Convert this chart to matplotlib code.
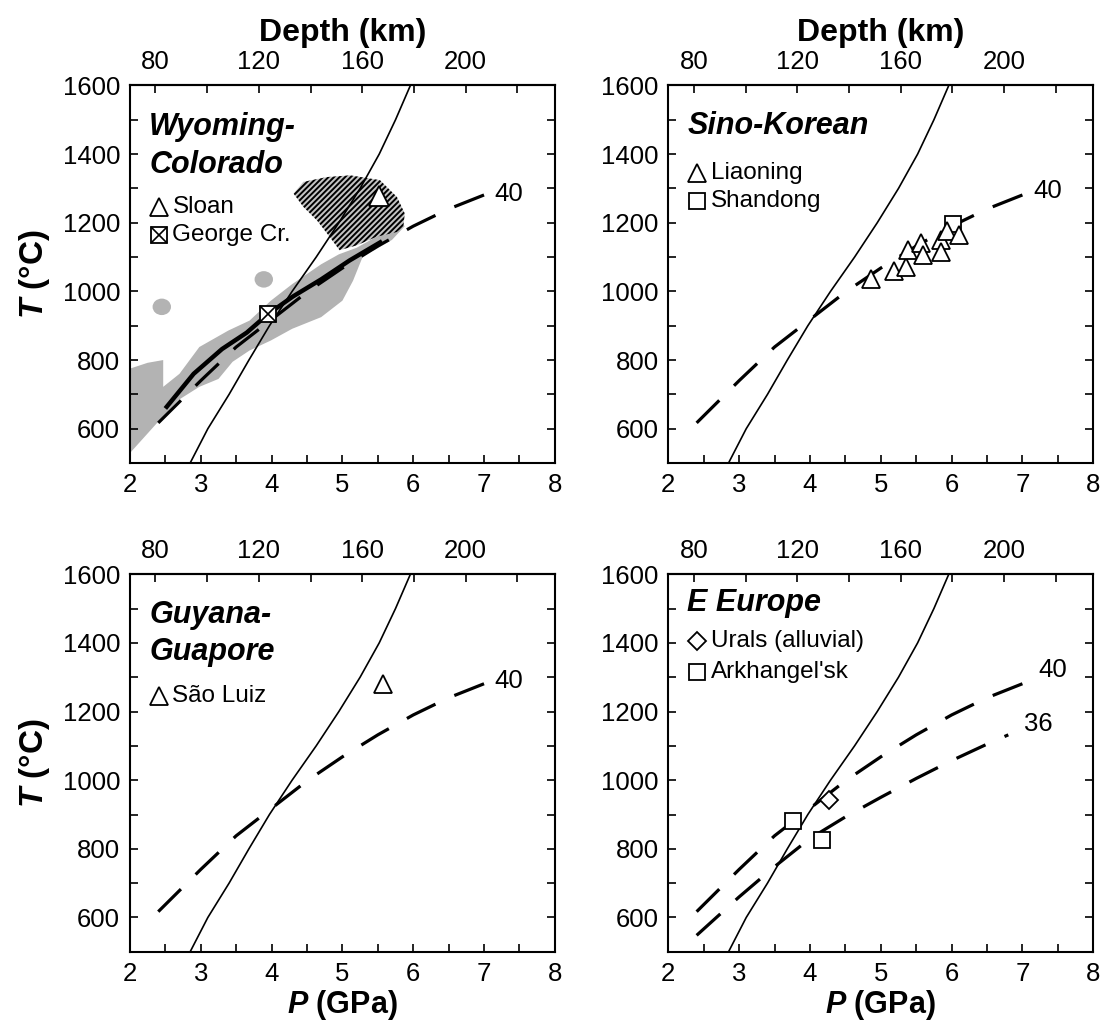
import matplotlib
matplotlib.use("Agg")
import matplotlib.pyplot as plt
from matplotlib.patches import Polygon, Ellipse
import numpy as np

plt.rcParams['font.family'] = ['Liberation Sans', 'DejaVu Sans']
plt.rcParams['mathtext.fontset'] = 'custom'
plt.rcParams['mathtext.bfit'] = 'Liberation Sans:bold:italic'
plt.rcParams['mathtext.rm'] = 'Liberation Sans:bold'
plt.rcParams['hatch.linewidth'] = 1.4
TICK_FS = 18.5

# graphite-diamond boundary (P in GPa, T in C)
gd_T = [500, 600, 700, 800, 900, 1000, 1100, 1200, 1300, 1400, 1500, 1600]
gd_P = [2.85, 3.10, 3.40, 3.68, 3.97, 4.29, 4.63, 4.95, 5.25, 5.52, 5.75, 5.96]

# conductive geotherms (mW/m2)
g40_P = [2.4, 3.0, 3.5, 4.0, 4.5, 5.0, 5.5, 6.0, 6.5, 7.05]
g40_T = [617, 740, 838, 918, 998, 1068, 1132, 1190, 1240, 1285]
g36_P = [2.4, 3.0, 3.5, 4.0, 4.5, 5.0, 5.5, 6.0, 6.5, 6.8]
g36_T = [548, 660, 748, 830, 893, 950, 1005, 1057, 1105, 1132]

# Wyoming-Colorado
wy_field_P = [2.00, 2.25, 2.47, 2.47, 2.70, 2.98, 3.39, 3.69, 3.99, 4.29, 4.70, 4.95, 5.20, 5.40, 5.60, 5.80,
              5.88, 5.70, 5.45, 5.30, 5.15, 5.00, 4.70, 4.29, 3.99, 3.69, 3.45, 3.25, 2.98, 2.68, 2.38, 2.00]
wy_field_T = [775, 792, 800, 722, 760, 838, 886, 915, 973, 1021, 1079, 1108, 1127, 1150, 1175, 1205,
              1190, 1150, 1120, 1108, 1031, 973, 925, 891, 857, 828, 795, 745, 722, 683, 616, 529]
wy_hatch_P = [4.31, 4.45, 4.78, 5.11, 5.53, 5.77, 5.88, 5.86, 5.77, 5.48, 5.20, 4.96, 4.82, 4.64, 4.45]
wy_hatch_T = [1285, 1319, 1333, 1338, 1324, 1275, 1227, 1188, 1173, 1159, 1134, 1120, 1159, 1207, 1246]
wy_blob_P = [2.45, 3.89]
wy_blob_T = [955, 1035]
wy_path_P = [2.50, 2.90, 3.30, 3.65, 3.95, 4.30, 4.70, 5.10, 5.56]
wy_path_T = [659, 760, 832, 880, 934, 985, 1035, 1090, 1146]
sloan = (5.51, 1279)
george = (3.95, 934)

# Sino-Korean
liaoning_P = [4.86, 5.19, 5.35, 5.39, 5.57, 5.59, 5.85, 5.85, 5.94, 6.10]
liaoning_T = [1037, 1058, 1072, 1120, 1140, 1106, 1149, 1116, 1176, 1165]
shandong = (6.02, 1196)

# Guyana-Guapore
sao_luiz = (5.57, 1280)

# E Europe
urals = (4.27, 943)
arkh_P = [3.76, 4.17]
arkh_T = [880, 825]

fig = plt.figure(figsize=(11.01, 10.29), dpi=100)
axs = [fig.add_axes([0.118, 0.550, 0.386, 0.367]),
       fig.add_axes([0.607, 0.550, 0.386, 0.367]),
       fig.add_axes([0.118, 0.075, 0.386, 0.367]),
       fig.add_axes([0.607, 0.075, 0.386, 0.367])]


def p2z(p):
    return (np.asarray(p) + 0.56) / 0.0365


def z2p(z):
    return np.asarray(z) * 0.0365 - 0.56


def setup(ax, depth_label, p_label, t_label):
    ax.set_xlim(2, 8)
    ax.set_ylim(500, 1600)
    ax.set_xticks(range(2, 9))
    ax.set_xticks(np.arange(2.5, 8, 1), minor=True)
    ax.set_yticks(range(600, 1601, 200))
    ax.set_yticks(range(500, 1600, 100), minor=True)
    ax.tick_params(which='both', direction='in', top=False, right=True,
                   length=6, width=1.2, labelsize=TICK_FS)
    ax.tick_params(axis='x', pad=7)
    ax.tick_params(axis='y', pad=7)
    for s in ax.spines.values():
        s.set_linewidth(1.5)
    sec = ax.secondary_xaxis('top', functions=(p2z, z2p))
    sec.set_xticks([80, 120, 160, 200])
    sec.set_xticks([100, 140, 180, 220], minor=True)
    sec.tick_params(which='both', direction='in', length=6, width=1.2,
                    labelsize=TICK_FS, pad=8)
    sec.spines['top'].set_linewidth(1.5)
    if depth_label:
        sec.set_xlabel('Depth (km)', fontsize=23, fontweight='bold', labelpad=7)
    if p_label:
        ax.set_xlabel(r'$\mathbfit{P}$ (GPa)', fontsize=22, fontweight='bold', labelpad=2)
    if t_label:
        ax.set_ylabel(r'$\mathbfit{T}$ (°C)', fontsize=24, fontweight='bold', labelpad=8)
    ax.plot(gd_P, gd_T, color='black', lw=1.2, zorder=3)
    ax.plot(g40_P, g40_T, color='black', lw=2.3, ls=(0, (10, 6.5)), zorder=3)


def title(ax, lines, y0, dy=0.1):
    for i, t in enumerate(lines):
        ax.text(0.045, y0 - i * dy, t, transform=ax.transAxes, fontsize=22,
                fontweight='bold', style='italic', va='center', ha='left')


def legend_item(ax, y, marker, label, ms=13, cross=False):
    ax.plot(0.068, y, marker=marker, ms=ms, mfc='white', mec='black', mew=1.3,
            transform=ax.transAxes, clip_on=False, zorder=6)
    if cross:
        ax.plot(0.068, y, marker='x', ms=ms, mec='black', mew=1.2,
                transform=ax.transAxes, zorder=7)
    ax.text(0.1, y, label, transform=ax.transAxes, fontsize=17.5,
            va='center', ha='left')


def iso_label(ax, x, y, s):
    ax.text(x, y, s, fontsize=TICK_FS, va='center')


# --- Wyoming-Colorado ---
ax = axs[0]
setup(ax, True, False, True)
ax.add_patch(Polygon(np.column_stack([wy_field_P, wy_field_T]), closed=True,
                     facecolor='#b3b3b3', edgecolor='none', zorder=1))
ax.add_patch(Polygon(np.column_stack([wy_hatch_P, wy_hatch_T]), closed=True,
                     facecolor='#c4c4c4', edgecolor='black', lw=0, hatch='//////', zorder=1.5))
for bp, bt in zip(wy_blob_P, wy_blob_T):
    ax.add_patch(Ellipse((bp, bt), 0.26, 48, angle=0, facecolor='#b3b3b3',
                         edgecolor='none', zorder=1))
ax.plot(wy_path_P, wy_path_T, color='black', lw=3.2, solid_capstyle='butt', zorder=4)
ax.plot(*sloan, marker='^', ms=15, mfc='white', mec='black', mew=1.3, zorder=6)
ax.plot(*george, marker='s', ms=11, mfc='white', mec='black', mew=1.3, zorder=6)
ax.plot(*george, marker='x', ms=11, mec='black', mew=1.2, zorder=7)
iso_label(ax, 7.15, 1285, '40')
title(ax, ['Wyoming-', 'Colorado'], 0.89)
legend_item(ax, 0.678, '^', 'Sloan')
legend_item(ax, 0.605, 's', 'George Cr.', ms=11, cross=True)

# --- Sino-Korean ---
ax = axs[1]
setup(ax, True, False, False)
ax.plot(*shandong, marker='s', ms=12, mfc='white', mec='black', mew=1.3, ls='none', zorder=5)
ax.plot(liaoning_P, liaoning_T, marker='^', ms=13, mfc='white', mec='black', mew=1.3,
        ls='none', zorder=6)
iso_label(ax, 7.15, 1292, '40')
title(ax, ['Sino-Korean'], 0.893)
legend_item(ax, 0.767, '^', 'Liaoning')
legend_item(ax, 0.693, 's', 'Shandong', ms=11)

# --- Guyana-Guapore ---
ax = axs[2]
setup(ax, False, True, True)
ax.plot(*sao_luiz, marker='^', ms=13, mfc='white', mec='black', mew=1.3, zorder=6)
iso_label(ax, 7.15, 1288, '40')
title(ax, ['Guyana-', 'Guapore'], 0.892, dy=0.099)
legend_item(ax, 0.678, '^', 'São Luiz')

# --- E Europe ---
ax = axs[3]
setup(ax, False, True, False)
ax.plot(g36_P, g36_T, color='black', lw=2.3, ls=(0, (10, 6.5)), zorder=3)
ax.plot(*urals, marker='D', ms=9, mfc='white', mec='black', mew=1.3, zorder=6)
ax.plot(arkh_P, arkh_T, marker='s', ms=12, mfc='white', mec='black', mew=1.3,
        ls='none', zorder=6)
iso_label(ax, 7.22, 1320, '40')
iso_label(ax, 7.02, 1164, '36')
title(ax, ['E Europe'], 0.925)
legend_item(ax, 0.824, 'D', 'Urals (alluvial)', ms=9)
legend_item(ax, 0.740, 's', "Arkhangel'sk", ms=11)

fig.savefig('out.png', dpi=100)
